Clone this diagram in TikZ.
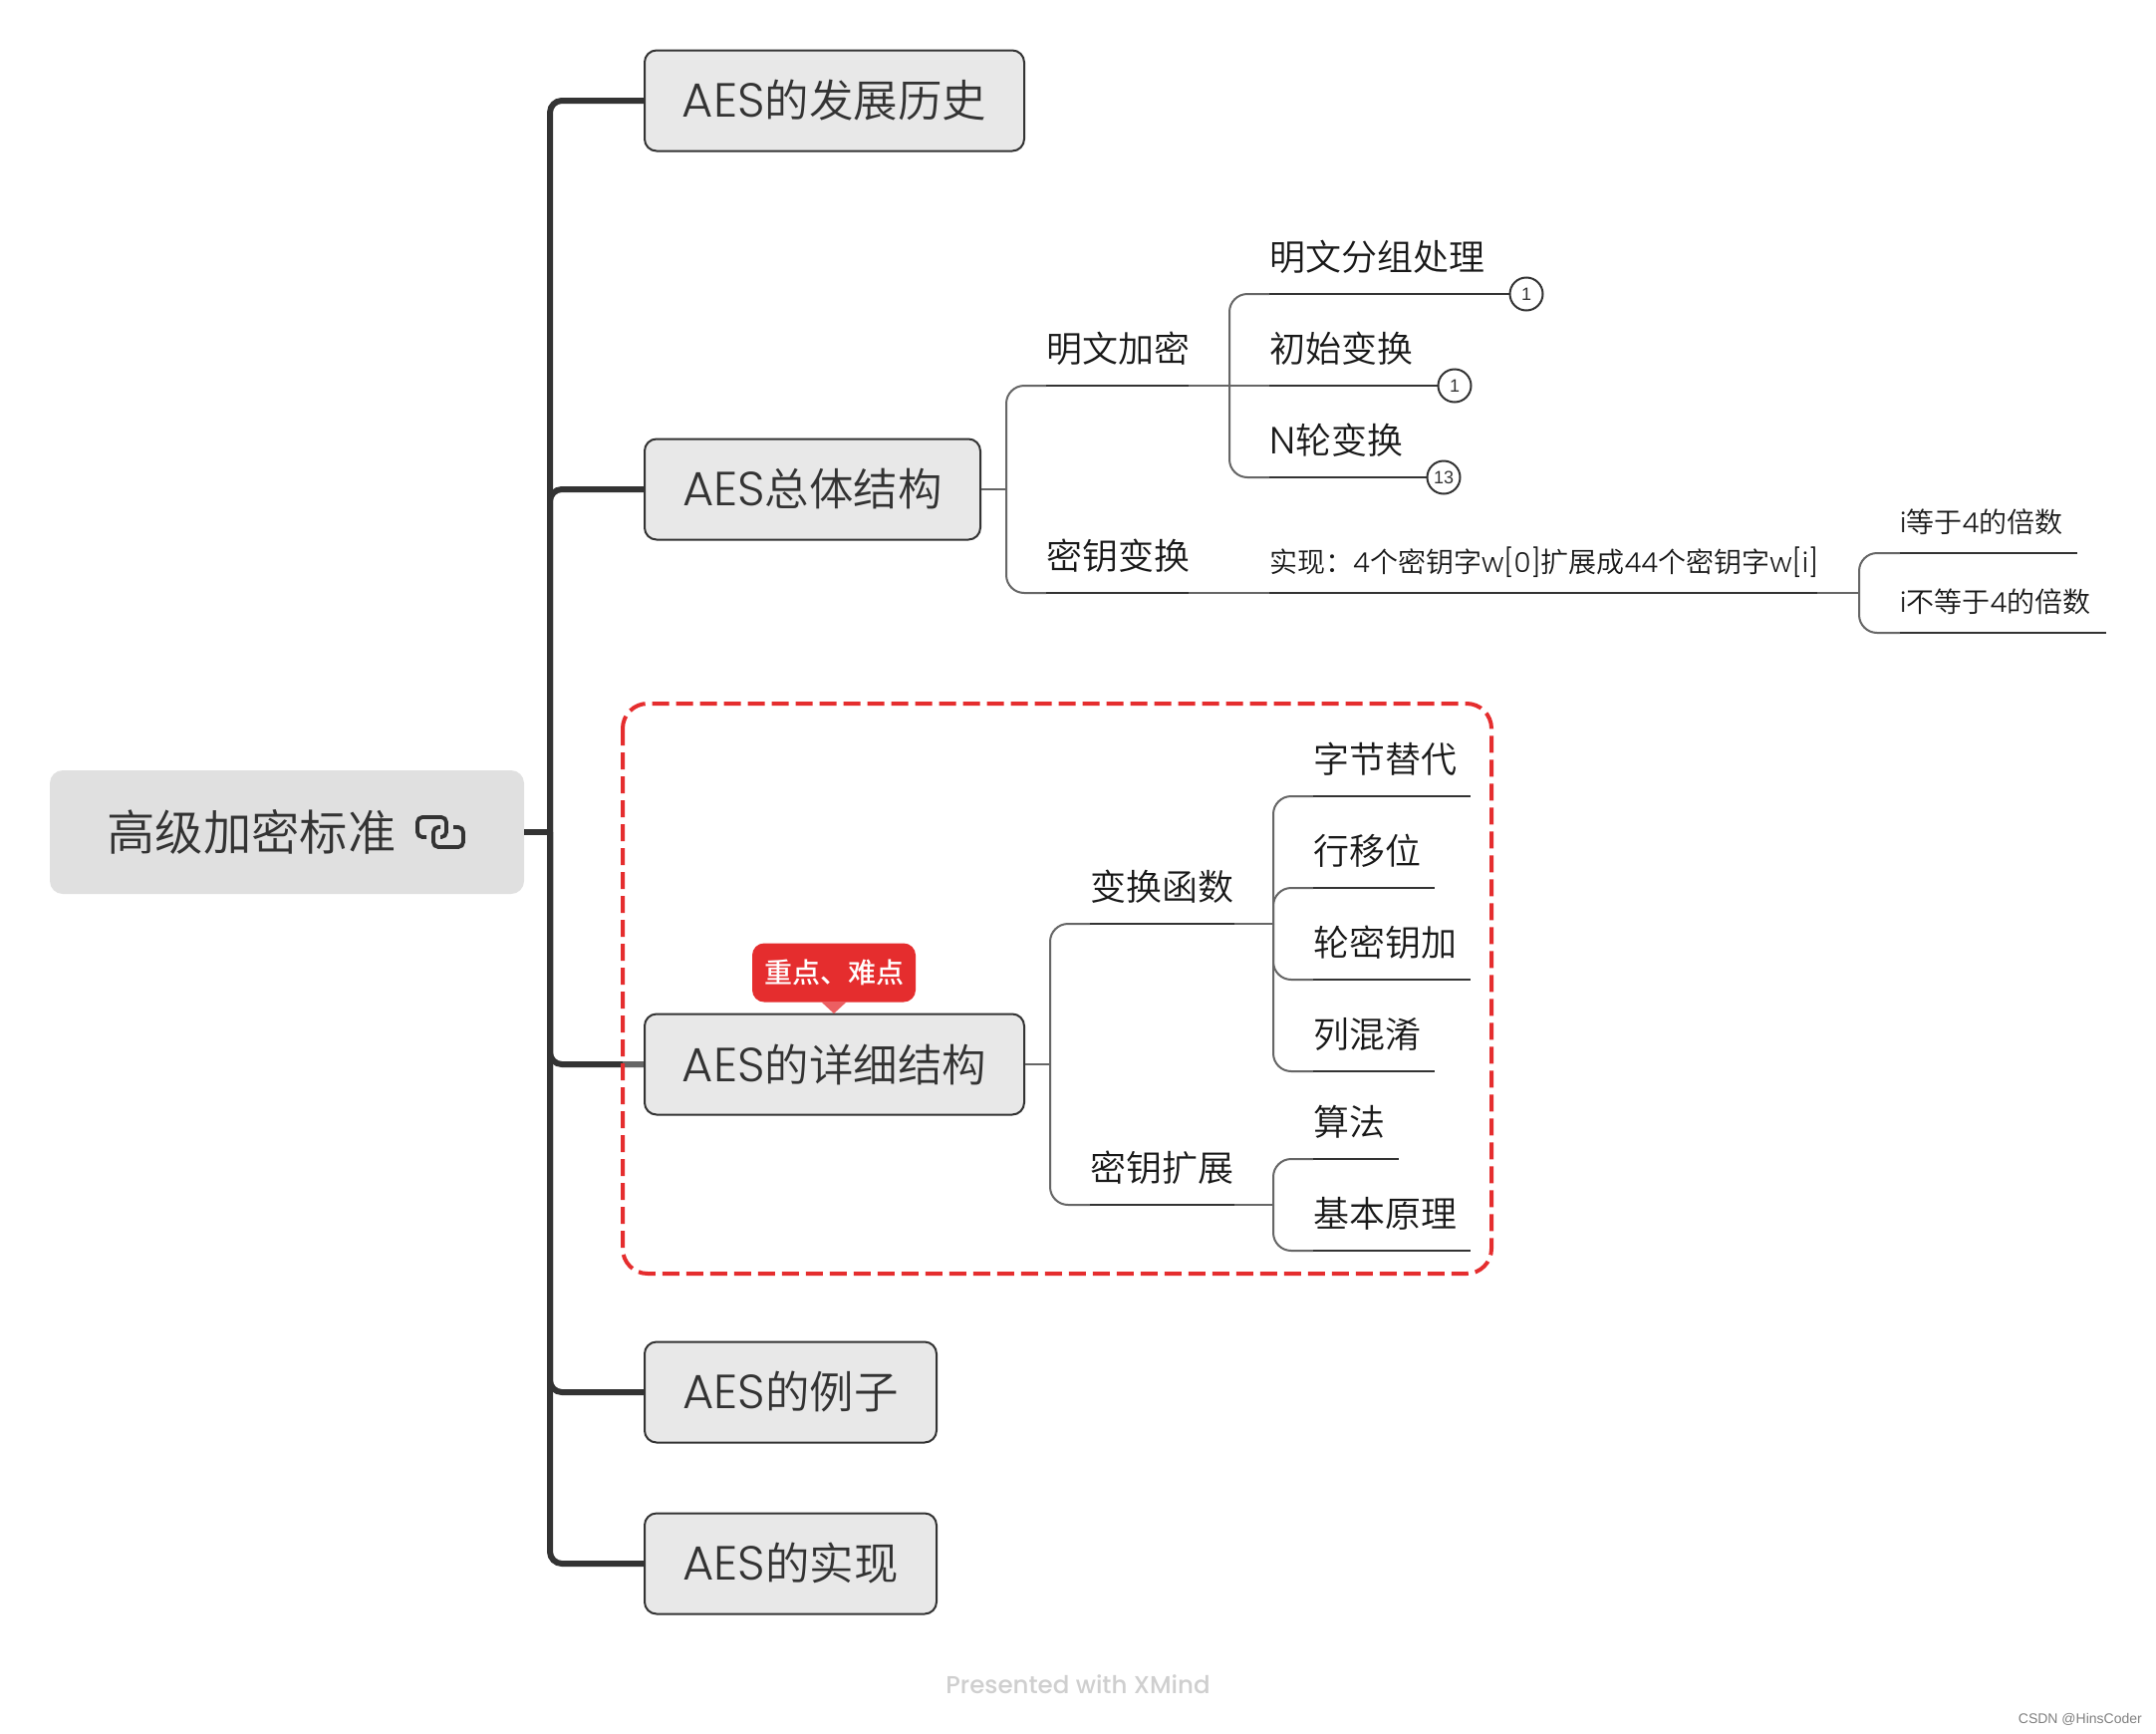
\documentclass[tikz,border=0pt]{standalone}
\usepackage{fontspec}
\setmainfont{Poppins Medium}
\newfontfamily\cjk{Noto Sans CJK SC}[UprightFont=* DemiLight,BoldFont=* Medium]
\newfontfamily\lat{Poppins Light}
\newfontfamily\csdn{Liberation Sans}
\newcommand{\fsz}[1]{\fontsize{#1}{#1}\selectfont}
\newcommand{\aes}{{\lat\fsz{48}AES}}
\newcommand{\sml}[1]{{\lat\fsz{27.5}#1}}
\definecolor{dk}{HTML}{333333}
\definecolor{md}{HTML}{666666}
\definecolor{boxf}{HTML}{E8E8E8}
\definecolor{rootf}{HTML}{E0E0E0}
\definecolor{red1}{HTML}{E52D2E}
\definecolor{red2}{HTML}{EC5F62}
\tikzset{
  x=1pt,y=-1pt,
  rootbox/.style={fill=rootf,rounded corners=13pt,minimum width=476pt,minimum height=124pt,inner sep=0pt,text=dk,font=\cjk\fsz{48.4}},
  mainbox/.style={fill=boxf,draw=dk,line width=2pt,rounded corners=12pt,minimum height=101pt,minimum width=#1,inner sep=0pt,text=dk,font=\cjk\fsz{44.5}},
  topic/.style={inner sep=0pt,anchor=south west,minimum height=74pt,text width=#1,align=left,text=black!90,font=\cjk\fsz{36}},
  small/.style={inner sep=0pt,anchor=south west,minimum height=#1,align=left,text=black!90,font=\cjk\fsz{28}},
  trunk/.style={draw=dk,line width=6pt,rounded corners=12pt},
  spine/.style={draw=md,line width=2pt,rounded corners=18pt},
  uline/.style={draw=dk,line width=2pt},
  marker/.style={circle,draw=dk,line width=2pt,fill=white,minimum size=33pt,inner sep=0pt,text=dk,font=\csdn\fsz{18}},
  group/.style={draw=red1,line width=4pt,dash pattern=on 17pt off 7pt,rounded corners=25pt},
  icon/.style={draw=dk,line width=3.8pt,rounded corners=5pt},
}
\begin{document}
\begin{tikzpicture}
\useasboundingbox (0,0) rectangle (2164,1740);
\fill[white] (0,0) rectangle (2164,1740);

% root and main topics
\node[rootbox] (root) at (288,835) {\hspace*{-71pt}高级加密标准};
\node[mainbox=381pt] (k1) at (837.5,101) {\aes 的发展历史};
\node[mainbox=337pt] (k2) at (815.5,491) {\aes 总体结构};
\node[mainbox=381pt] (k3) at (837.5,1068) {\aes 的详细结构};
\node[mainbox=293pt] (k4) at (793.5,1397) {\aes 的例子};
\node[mainbox=293pt] (k5) at (793.5,1569) {\aes 的实现};

% link icon
\draw[icon] (428,840) -- (419,840) -- (419,820) -- (448,820) -- (448,840) -- (442,840);
\draw[icon] (455,830) -- (465,830) -- (465,850) -- (435,850) -- (435,830) -- (442,830);

% trunk
\coordinate (bar) at (552,835);
\draw[dk,line width=6pt] (root.east) -- (bar);
\foreach \k in {k1,k2,k3,k4,k5}{
  \draw[trunk] (bar) |- (\k.west);
}
\coordinate (near) at (625,1068);
\draw[md,line width=6pt] (near) -- (k3.west);

% structure of AES总体结构
\coordinate (j2) at (1010,491);
\coordinate (j21) at (1234,387);
\coordinate (j22) at (1866,595);
\node[topic=143pt] (mw) at (1050,387) {明文加密};
\node[topic=143pt] (my) at (1050,595) {密钥变换};
\node[topic=241pt] (c1) at (1274,295) {明文分组处理};
\node[topic=169pt] (c2) at (1274,387) {初始变换};
\node[topic=158pt] (c3) at (1274,479) {{\lat\fsz{38}N}轮变换};
\node[small=62pt,text width=550pt] (impl) at (1274,595) {实现：\sml{4}个密钥字\sml{w[0]}扩展成\sml{44}个密钥字\sml{w[i]}};
\node[small=62pt,text width=178pt] (e1) at (1907,555) {\sml{i}等于\sml{4}的倍数};
\node[small=62pt,text width=207pt] (e2) at (1907,635) {\sml{i}不等于\sml{4}的倍数};
\node[marker] (m1) at (1532,295) {1};
\node[marker] (m2) at (1460,387) {1};
\node[marker] (m3) at (1449,479) {13};

\draw[md,line width=2pt] (k2.east) -- (j2);
\draw[spine] (mw.south west) -| (j2) |- (my.south west);
\draw[spine] (c1.south west) -| (j21) |- (c3.south west);
\draw[md,line width=2pt] (mw.south east) -- (c2.south west);
\draw[md,line width=2pt] (my.south east) -- (impl.south west);
\draw[md,line width=2pt] (impl.south east) -- (j22);
\draw[spine] (e1.south west) -| (j22) |- (e2.south west);
\foreach \t in {mw,my,c1,c2,c3,impl,e1,e2}{
  \draw[uline] (\t.south west) -- (\t.south east);
}
\draw[uline] (c1.south east) -- (m1.west);
\draw[uline] (c2.south east) -- (m2.west);
\draw[uline] (c3.south east) -- (m3.west);

% structure of AES的详细结构
\coordinate (j3) at (1054,1068);
\coordinate (j31) at (1278,927);
\coordinate (j32) at (1278,1209);
\node[topic=145pt] (hs) at (1094,927) {变换函数};
\node[topic=145pt] (kz) at (1094,1209) {密钥扩展};
\node[topic=158pt] (d1) at (1318,799) {字节替代};
\node[topic=122pt] (d2) at (1318,891) {行移位};
\node[topic=158pt] (d3) at (1318,983) {轮密钥加};
\node[topic=122pt] (d4) at (1318,1075) {列混淆};
\node[topic=86pt] (d5) at (1318,1163) {算法};
\node[topic=158pt] (d6) at (1318,1255) {基本原理};

\draw[md,line width=2pt] (k3.east) -- (j3);
\draw[spine] (hs.south west) -| (j3) |- (kz.south west);
\draw[md,line width=2pt] (hs.south east) -- (j31);
\draw[md,line width=2pt] (kz.south east) -- (j32);
\foreach \t in {d1,d2,d3,d4}{
  \draw[spine] (\t.south west) -| (j31);
}
\foreach \t in {d5,d6}{
  \draw[spine] (\t.south west) -| (j32);
}
\foreach \t in {hs,kz,d1,d2,d3,d4,d5,d6}{
  \draw[uline] (\t.south west) -- (\t.south east);
}

% dashed group frame
\draw[group] (625,706) rectangle (1497,1278);

% callout
\node[fill=red1,rounded corners=12pt,minimum width=164pt,minimum height=59pt,inner sep=0pt,text=white,font=\cjk\bfseries\fsz{28}] (note) at (837,976) {重点、难点};
\fill[red2] (824,1005) -- (850,1005) -- (837,1017) -- cycle;

% footer
\node[text=black!19,font=\fsz{24.5},inner sep=0pt] (xm) at (1082,1690) {Presented with XMind};
\node[text=black!50,font=\csdn\fsz{14},inner sep=0pt,anchor=east] (cs) at (2150,1725) {CSDN @HinsCoder};
\end{tikzpicture}
\end{document}
